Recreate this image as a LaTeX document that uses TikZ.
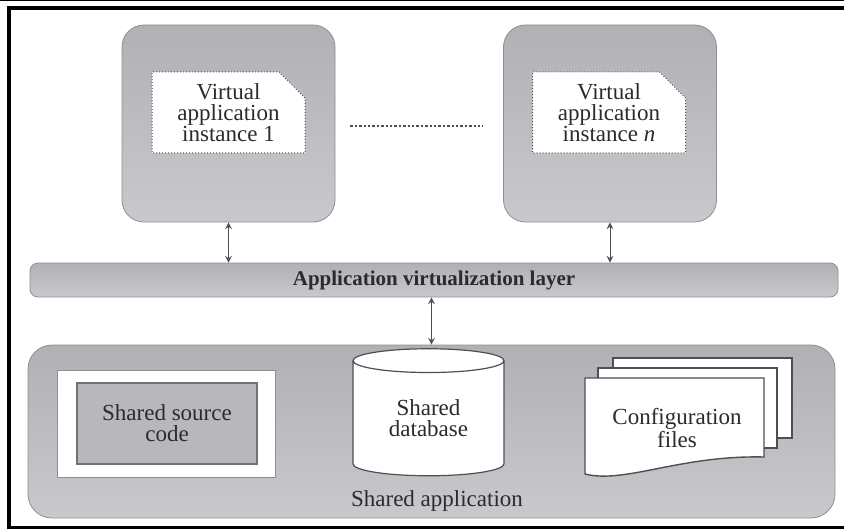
\documentclass[tikz,border=0pt]{standalone}
\usepackage{fontspec}
\setmainfont{Liberation Serif}
\usepackage{xcolor}
\usepackage{tikz}
\usetikzlibrary{shapes.misc, shapes.geometric, positioning, calc}

\begin{document}
\begin{tikzpicture}[x=0.5pt, y=-0.5pt, >=stealth,
  instancia/.style={draw=borda, line width=0.4pt, rounded corners=11pt, top color=caixa, bottom color=caixaclara, minimum width=106.5pt, minimum height=98.5pt, inner sep=0pt},
  nota/.style={chamfered rectangle, chamfered rectangle corners=north east, chamfered rectangle xsep=8pt, chamfered rectangle ysep=5pt, draw=traco, densely dotted, line width=0.5pt, fill=white, minimum width=76.5pt, minimum height=40.5pt, inner sep=0pt, align=center, text=texto, font=\fontsize{11.5}{10.5}\selectfont},
  camada/.style={draw=borda, line width=0.4pt, rounded corners=4pt, top color=caixa, bottom color=caixaclara, minimum width=404pt, minimum height=17pt, inner sep=0pt, text=texto, font=\fontsize{10.5}{12}\selectfont\bfseries},
  recipiente/.style={draw=borda, line width=0.4pt, rounded corners=12pt, top color=caixa, bottom color=caixaclara, minimum width=403.5pt, minimum height=86.5pt, inner sep=0pt},
  seta/.style={<->, line width=0.5pt, color=traco},
  rotulo/.style={align=center, text=texto, font=\fontsize{11.5}{10.5}\selectfont, inner sep=0pt},
  pagina/.style={draw=traco, line width=0.7pt, fill=white}
]
% --- CORES HEX ---
\definecolor{caixa}{HTML}{B0B0B5}
\definecolor{caixaclara}{HTML}{C9C9CD}
\definecolor{borda}{HTML}{8E8E94}
\definecolor{traco}{HTML}{4E4E55}
\definecolor{texto}{HTML}{2A2A30}

\useasboundingbox (0,0) rectangle (844,529);

% LAYER 0: Moldura
\draw[line width=0.5pt] (0,0.5) -- (844,0.5);
\draw[line width=2pt] (844,8) -- (9,8) -- (9,529);
\draw[line width=1.5pt] (9,527.5) -- (844,527.5);

% LAYER 1: Instancias virtuais
\node[instancia] (inst1) at (228.5,123.5) {};
\node[nota] (nota1) at (228.5,112.5) {Virtual\\application\\instance 1};
\node[instancia] (instn) at (610,123.5) {};
\node[nota] (notan) at (609,112.5) {Virtual\\application\\instance \textit{n}};
\draw[densely dotted, line width=1.2pt, color=traco, shorten <=7.5pt, shorten >=10pt] ($(inst1.east)+(0,2.5)$) -- ($(instn.west)+(0,2.5)$);

% LAYER 2: Camada de virtualizacao
\node[camada] (camada) at (434,280) {Application virtualization layer};
\draw[seta] (inst1.south) -- (inst1.south |- camada.north);
\draw[seta] (instn.south) -- (instn.south |- camada.north);

% LAYER 3: Aplicacao compartilhada
\node[recipiente] (app) at (431.5,431.5) {};
\draw[seta] (app.north |- camada.south) -- (app.north);

\node[draw=borda, line width=0.4pt, fill=white, minimum width=109pt, minimum height=53.5pt] (codigo) at (166,423.5) {};
\node[rotulo, draw=borda!80!black, line width=0.6pt, fill=caixa!90!white, minimum width=90pt, minimum height=40.5pt] (fonte) at (167,423.5) {Shared source\\code};

\node[rotulo, cylinder, shape border rotate=90, aspect=0.3, draw=traco, line width=0.6pt, fill=white, minimum width=75.5pt, minimum height=63.5pt] (banco) at (428.5,418.5) {Shared\\database};
\node[rotulo] (compartilhada) at (437,501) {Shared application};

\draw[pagina] (613,358) rectangle (792,438);
\draw[pagina] (598,368) rectangle (777,448);
\draw[pagina] (585,378) -- (764,378) -- (764,457) .. controls (680,455) and (625,484) .. (585,474) -- cycle;
\node[rotulo] (config) at (677,428) {Configuration\\files};
\end{tikzpicture}
\end{document}
